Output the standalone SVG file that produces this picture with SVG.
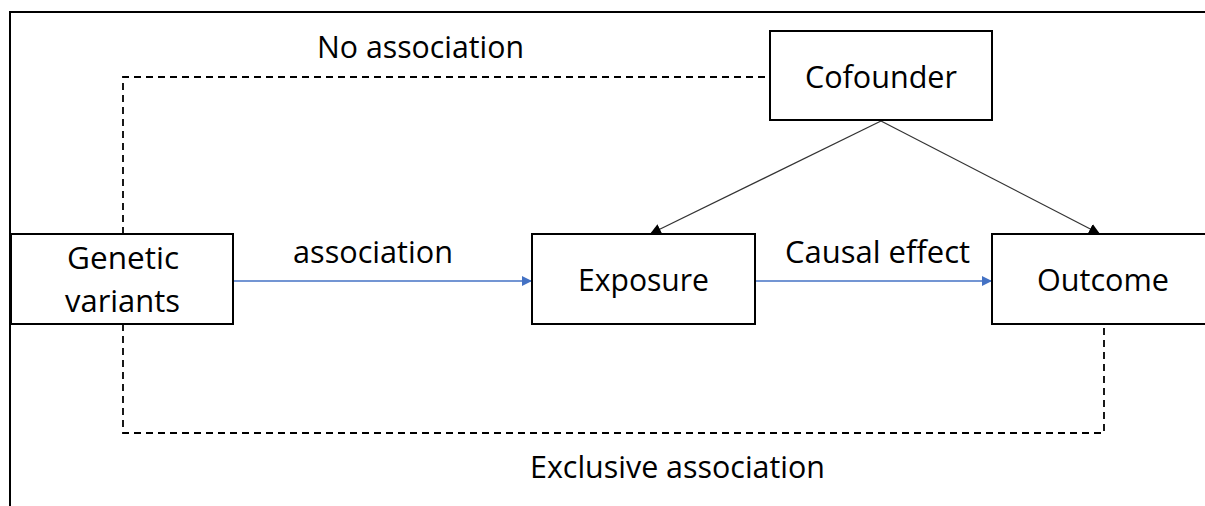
<svg xmlns="http://www.w3.org/2000/svg" width="1205" height="506" viewBox="0 0 1205 506">
<style>
.box{fill:#fff;stroke:#000;stroke-width:2}
.t{font-family:"Open Sans","Liberation Sans",sans-serif;font-size:31.5px;fill:#000}
.dash{fill:none;stroke:#000;stroke-width:1.8;stroke-dasharray:7 5}
.blue{stroke:#4472C4;stroke-width:1.3;fill:none}
.blk{stroke:#333;stroke-width:1.2;fill:none}
</style>
<defs>
<marker id="ab" viewBox="0 0 10 10" refX="10" refY="5" markerWidth="10" markerHeight="10" markerUnits="userSpaceOnUse" orient="auto"><path d="M0,0 L10,5 L0,10 Z" fill="#4472C4"/></marker>
<marker id="ak" viewBox="0 0 10 10" refX="10" refY="5" markerWidth="11" markerHeight="11" markerUnits="userSpaceOnUse" orient="auto"><path d="M0,0 L10,5 L0,10 Z" fill="#000"/></marker>
</defs>
<rect width="1205" height="506" fill="#fff"/>
<g id="frame"><path d="M10,506 L10,12 L1205,12" fill="none" stroke="#000" stroke-width="2"/></g>
<g id="connectors">
<path class="dash" d="M123,234 L123,77 L770,77"/>
<path class="dash" d="M123,324 L123,433 L1104,433 L1104,324"/>
<line class="blue" x1="233" y1="281" x2="532" y2="281" marker-end="url(#ab)"/>
<line class="blue" x1="755" y1="281" x2="992" y2="281" marker-end="url(#ab)"/>
<line class="blk" x1="881" y1="121" x2="650" y2="234" marker-end="url(#ak)"/>
<line class="blk" x1="881" y1="121" x2="1100" y2="234" marker-end="url(#ak)"/>
</g>
<g id="labels">
<text class="t" x="317" y="58" textLength="207" lengthAdjust="spacingAndGlyphs">No association</text>
<text class="t" x="293" y="263" textLength="160" lengthAdjust="spacingAndGlyphs">association</text>
<text class="t" x="785" y="263" textLength="185" lengthAdjust="spacingAndGlyphs">Causal effect</text>
<text class="t" x="530" y="478" textLength="295" lengthAdjust="spacingAndGlyphs">Exclusive association</text>
</g>
<g id="genetic">
<rect class="box" x="11" y="234" width="222" height="90"/>
<text class="t" x="67" y="269" textLength="112" lengthAdjust="spacingAndGlyphs">Genetic</text>
<text class="t" x="65" y="312" textLength="115" lengthAdjust="spacingAndGlyphs">variants</text>
</g>
<g id="exposure">
<rect class="box" x="532" y="234" width="223" height="90"/>
<text class="t" x="578" y="291" textLength="131" lengthAdjust="spacingAndGlyphs">Exposure</text>
</g>
<g id="cofounder">
<rect class="box" x="770" y="31" width="222" height="89"/>
<text class="t" x="805" y="88" textLength="152" lengthAdjust="spacingAndGlyphs">Cofounder</text>
</g>
<g id="outcome">
<rect class="box" x="992" y="234" width="230" height="90"/>
<text class="t" x="1037" y="291" textLength="132" lengthAdjust="spacingAndGlyphs">Outcome</text>
</g>
</svg>
